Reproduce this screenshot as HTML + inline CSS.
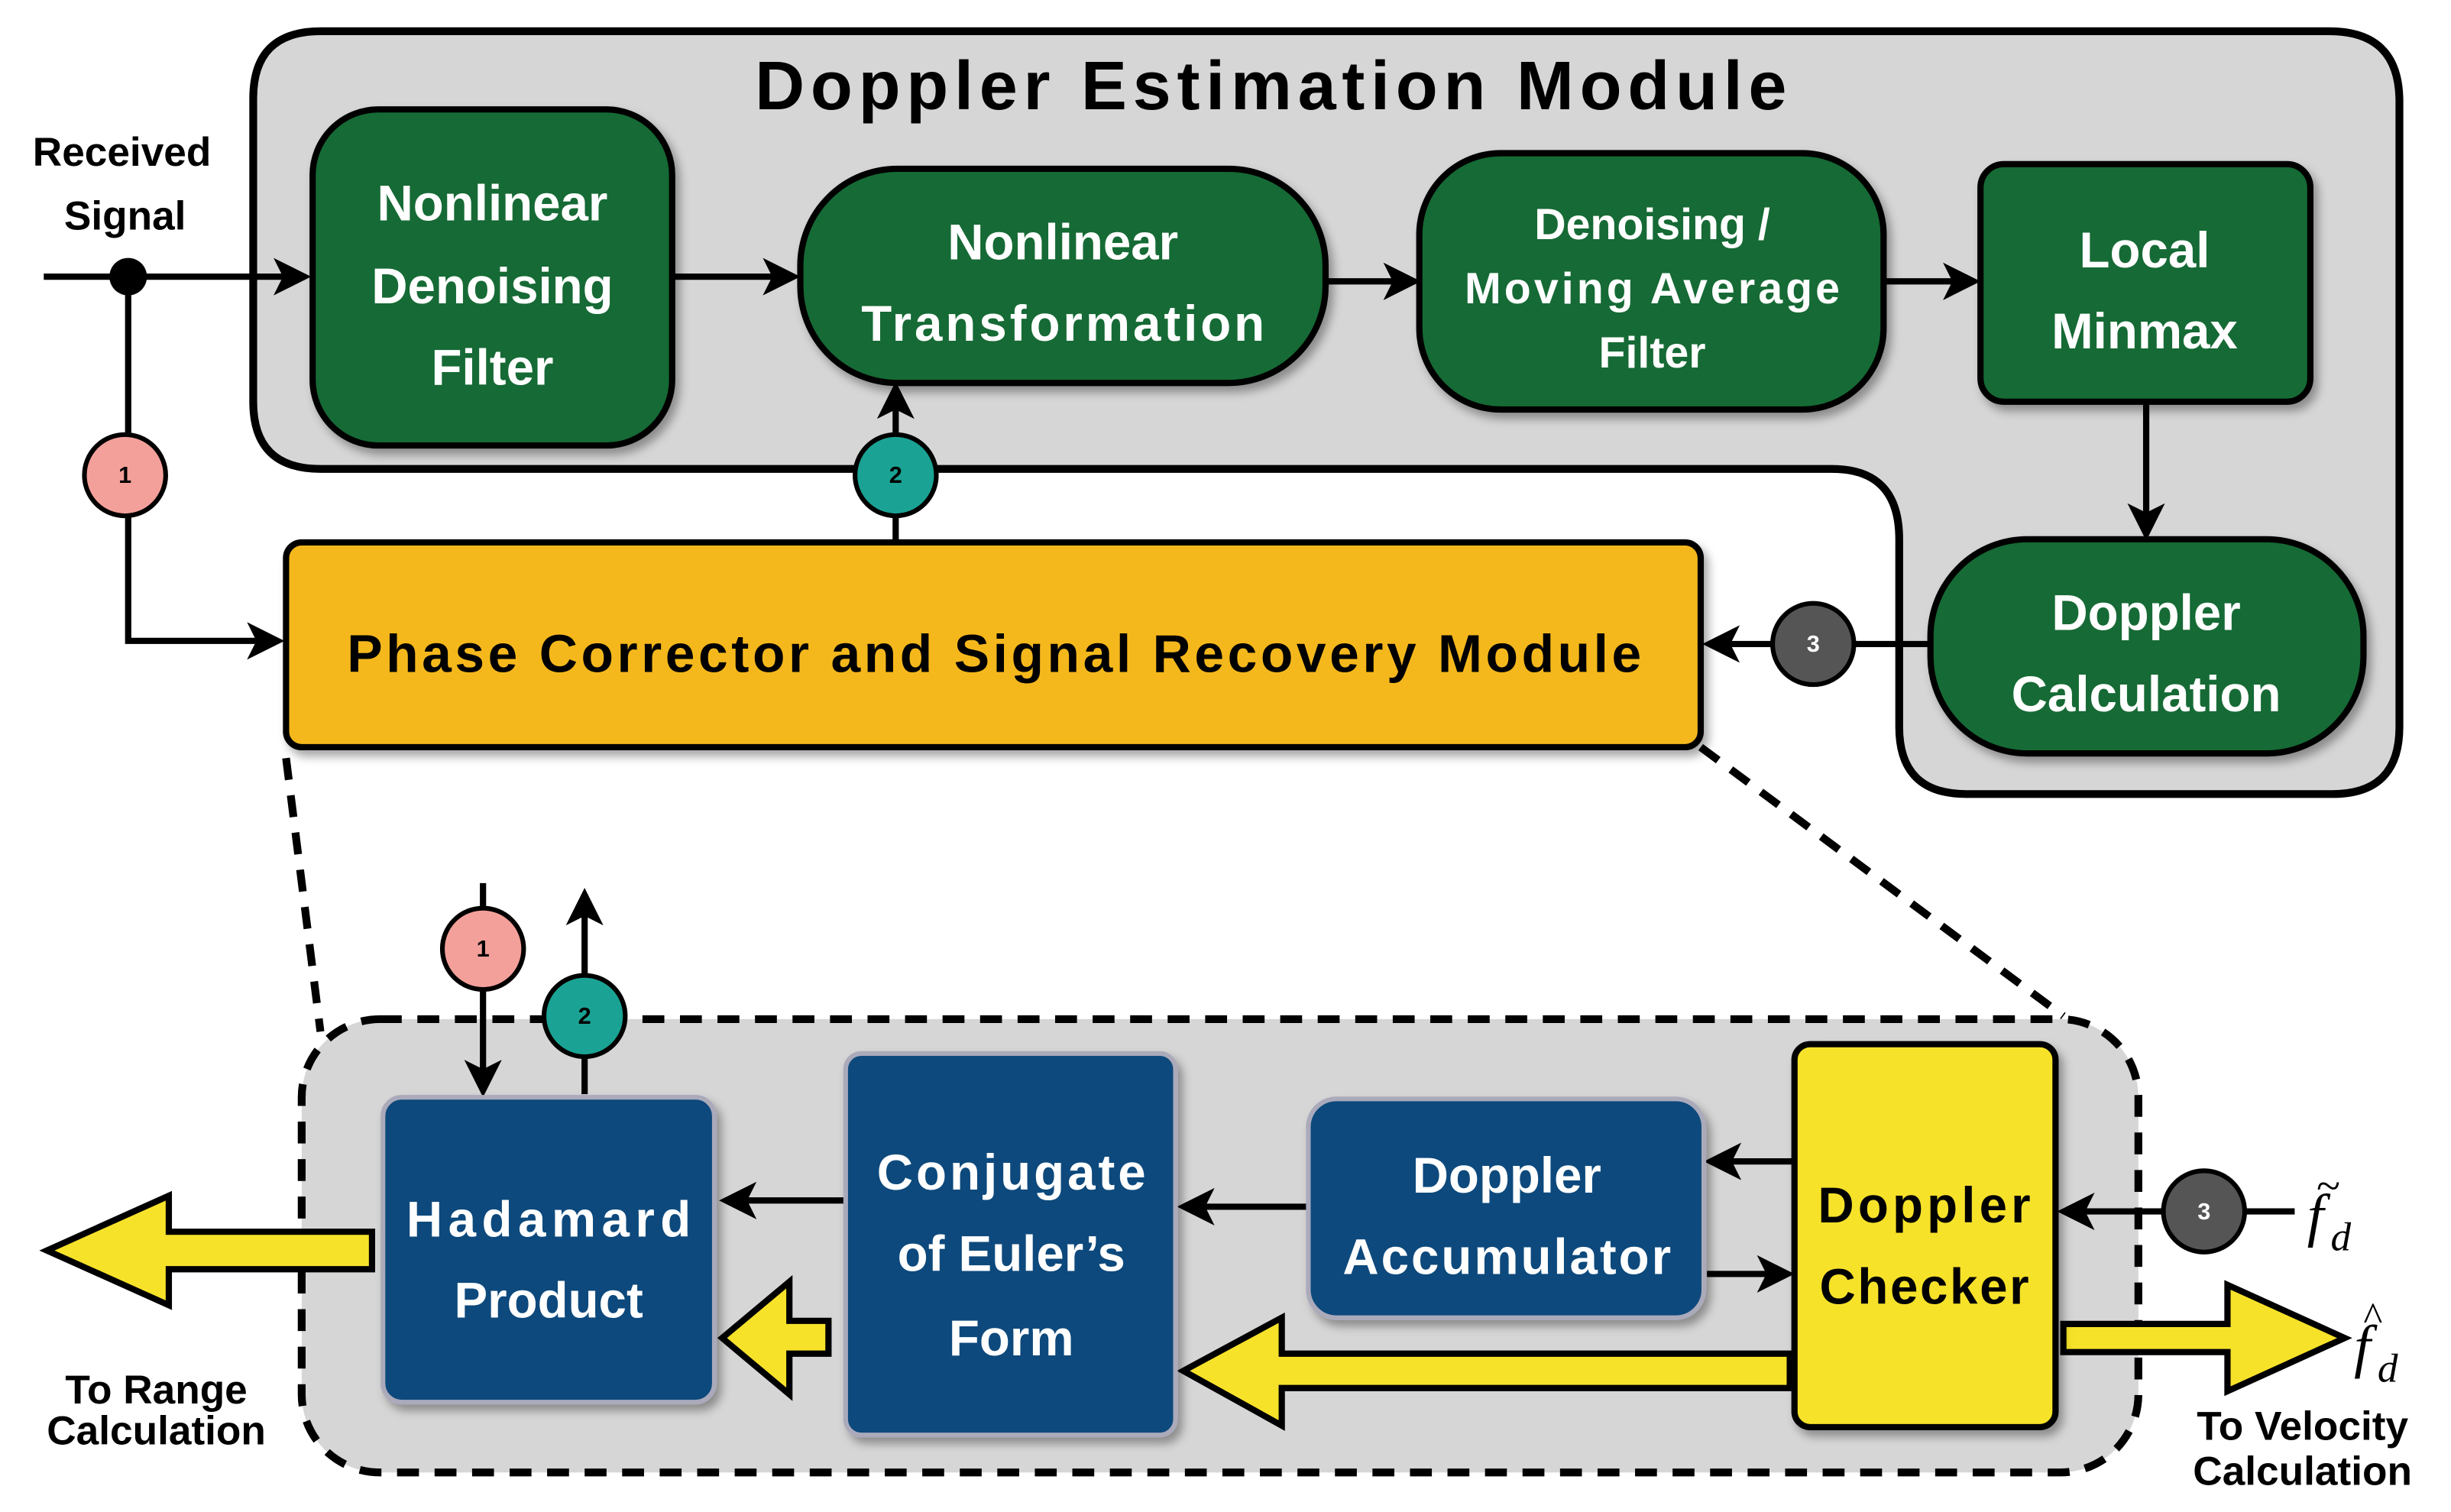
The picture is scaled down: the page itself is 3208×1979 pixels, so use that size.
<!DOCTYPE html>
<html><head><meta charset="utf-8"><style>html,body{margin:0;padding:0;background:#fff}svg{display:block}</style></head>
<body>
<svg width="3208" height="1979" viewBox="0 0 1568 967.3" preserveAspectRatio="none" xmlns="http://www.w3.org/2000/svg" font-family="Liberation Sans, sans-serif" font-weight="bold">
<defs>
<marker id="a" markerWidth="6" markerHeight="6" refX="5" refY="3" orient="auto" markerUnits="strokeWidth"><path d="M0,0 L6,3 L0,6 L1.5,3 Z" fill="#000"/></marker>
<filter id="s" x="-10%" y="-10%" width="130%" height="130%"><feDropShadow dx="3" dy="4" stdDeviation="3" flood-opacity="0.35"/></filter>
</defs>
<path d="M205,20 H1490 Q1535,20 1535,65 V465 Q1535,508 1492,508 H1258 Q1215,508 1215,465 V345 Q1215,300 1172,300 H205 Q162,300 162,257 V63 Q162,20 205,20 Z" fill="#d6d6d6" stroke="#000" stroke-width="5"/>
<text x="813" y="70" font-size="44" text-anchor="middle" textLength="660">Doppler Estimation Module</text>
<g fill="#000" font-size="26" text-anchor="middle"><text x="78" y="106">Received</text><text x="80" y="147">Signal</text></g>
<g stroke="#000" stroke-width="4" fill="none">
<line x1="28" y1="177" x2="195" y2="177" marker-end="url(#a)"/>
<polyline points="82,177 82,410 178,410" marker-end="url(#a)"/>
<line x1="430" y1="177" x2="508" y2="177" marker-end="url(#a)"/>
<line x1="848" y1="180" x2="905" y2="180" marker-end="url(#a)"/>
<line x1="1205" y1="180" x2="1263" y2="180" marker-end="url(#a)"/>
<line x1="1373" y1="257" x2="1373" y2="342" marker-end="url(#a)"/>
<line x1="573" y1="347" x2="573" y2="248" marker-end="url(#a)"/>
<line x1="1235" y1="412" x2="1093" y2="412" marker-end="url(#a)"/>
</g>
<circle cx="82" cy="177" r="12" fill="#000"/>
<g stroke="#000" stroke-width="4" filter="url(#s)" fill="#136a36">
<rect x="200" y="70" width="230" height="215" rx="42"/>
<rect x="512" y="108" width="336" height="137" rx="62"/>
<rect x="908" y="98" width="297" height="164" rx="52"/>
<rect x="1267" y="105" width="211" height="152" rx="15"/>
<rect x="1235" y="345" width="277" height="137" rx="62"/>
<rect x="183" y="347" width="905" height="131" rx="10" fill="#f5b81b"/>
</g>
<g fill="#fff" font-size="32" text-anchor="middle">
<text x="315" y="141">Nonlinear</text><text x="315" y="194">Denoising</text><text x="315" y="246">Filter</text>
<text x="680" y="166">Nonlinear</text><text x="680" y="218" textLength="258">Transformation</text>
<text x="1372" y="171">Local</text><text x="1372" y="223">Minmax</text>
<text x="1373" y="403">Doppler</text><text x="1373" y="455">Calculation</text>
<g font-size="28"><text x="1057" y="153">Denoising /</text><text x="1057" y="194" textLength="240">Moving Average</text><text x="1057" y="235">Filter</text></g>
</g>
<text x="636" y="430" font-size="34" text-anchor="middle" fill="#000" textLength="828">Phase Corrector and Signal Recovery Module</text>
<g stroke="#000" stroke-width="3" font-size="15" text-anchor="middle">
<circle cx="80" cy="304" r="26" fill="#f4a09a"/>
<circle cx="573" cy="304" r="26" fill="#1aa394"/>
<circle cx="1160" cy="412" r="26" fill="#555"/>
</g>
<g font-size="15" text-anchor="middle"><text x="80" y="309" fill="#000">1</text><text x="573" y="309" fill="#000">2</text><text x="1160" y="417" fill="#fff">3</text></g>
<g stroke="#000" stroke-width="5" stroke-dasharray="14,10" fill="none">
<line x1="183" y1="485" x2="205" y2="660"/>
<line x1="1088" y1="478" x2="1320" y2="650"/>
</g>
<rect x="193" y="652" width="1175" height="290" rx="50" fill="#d6d6d6" stroke="#000" stroke-width="5" stroke-dasharray="14,10"/>
<g stroke="#000" stroke-width="4" fill="none">
<line x1="309" y1="565" x2="309" y2="698" marker-end="url(#a)"/>
<line x1="374" y1="700" x2="374" y2="572" marker-end="url(#a)"/>
<line x1="541" y1="768" x2="464" y2="768" marker-end="url(#a)"/>
<line x1="837" y1="772" x2="757" y2="772" marker-end="url(#a)"/>
<line x1="1148" y1="743" x2="1094" y2="743" marker-end="url(#a)"/>
<line x1="1092" y1="815" x2="1144" y2="815" marker-end="url(#a)"/>
<line x1="1468" y1="775" x2="1320" y2="775" marker-end="url(#a)"/>
</g>
<g fill="#f7e22a" stroke="#000" stroke-width="4" stroke-linejoin="miter">
<path d="M238,788 H108 V765 L30,800 L108,835 V812 H238 Z"/>
<path d="M530,845 H505 V820 L462,856 L505,892 V866 H530 Z"/>
<path d="M1145,866 H820 V843 L757,877 L820,912 V888 H1145 Z"/>
<path d="M1320,847 H1425 V822 L1500,856 L1425,890 V865 H1320 Z"/>
</g>
<g stroke="#aab" stroke-width="3" fill="#0c4a7c" filter="url(#s)">
<rect x="245" y="702" width="212" height="195" rx="12"/>
<rect x="541" y="674" width="211" height="244" rx="10"/>
<rect x="837" y="703" width="253" height="140" rx="18"/>
<rect x="1148" y="668" width="167" height="245" rx="10" fill="#f7e22a" stroke="#000" stroke-width="4"/>
</g>
<g fill="#fff" font-size="32" text-anchor="middle">
<text x="351" y="791" textLength="182">Hadamard</text><text x="351" y="843">Product</text>
<text x="647" y="761" textLength="172">Conjugate</text><text x="647" y="813">of Euler’s</text><text x="647" y="867">Form</text>
<text x="964" y="763">Doppler</text><text x="964" y="815" textLength="210">Accumulator</text>
</g>
<g fill="#000" font-size="32" text-anchor="middle"><text x="1231" y="782" textLength="136">Doppler</text><text x="1231" y="834" textLength="134">Checker</text></g>
<g stroke="#000" stroke-width="3">
<circle cx="309" cy="607" r="26" fill="#f4a09a"/>
<circle cx="374" cy="650" r="26" fill="#1aa394"/>
<circle cx="1410" cy="775" r="26" fill="#555"/>
</g>
<g font-size="15" text-anchor="middle"><text x="309" y="612" fill="#000">1</text><text x="374" y="655" fill="#000">2</text><text x="1410" y="780" fill="#fff">3</text></g>
<g fill="#000" font-size="26" text-anchor="middle">
<text x="100" y="898">To Range</text><text x="100" y="924">Calculation</text>
<text x="1473" y="921">To Velocity</text><text x="1473" y="950">Calculation</text>
</g>
<g font-family="Liberation Serif, serif" font-style="italic" font-weight="normal" font-size="38" fill="#000">
<text x="1476" y="790">f</text><text x="1491" y="800" font-size="26">d</text><text x="1482" y="768" font-style="normal" font-size="28">~</text>
<text x="1506" y="874">f</text><text x="1521" y="884" font-size="26">d</text><text x="1512" y="851" font-style="normal" font-size="26">^</text>
</g>
</svg>
</body></html>
